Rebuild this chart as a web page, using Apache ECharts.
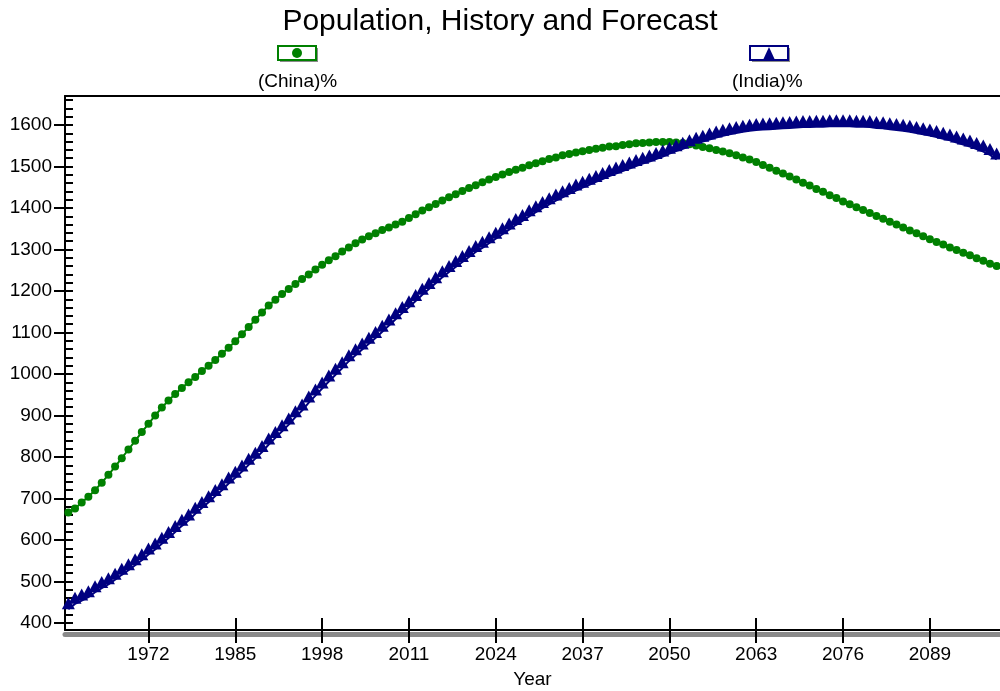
<!DOCTYPE html>
<html style="height: 100%">

<head>
    <meta charset="utf-8">
    <script src="https://cdn.jsdelivr.net/npm/echarts@6.0.0/dist/echarts.min.js"></script>
</head>

<body style="height: 100%; margin: 0; background: #fff">
    <div id="main" style="width: 1000px;height:691px;"></div>
    <script type="text/javascript">
        // one point per year, 1960 .. 2099
        var firstYear = 1960, lastYear = 2099;

        var xTickYears = [1972, 1985, 1998, 2011, 2024, 2037, 2050, 2063, 2076, 2089];
        var yMajor = [400, 500, 600, 700, 800, 900, 1000, 1100, 1200, 1300, 1400, 1500, 1600];
        var yMinor = [];
        for (var t = 400; t <= 1660; t += 20) yMinor.push(t);

        var china = [
            666, 676, 690, 704, 720, 738, 757, 777, 797, 818,
            839, 860, 880, 900, 919, 936, 952, 966, 980, 993,
            1007, 1020, 1034, 1049, 1063, 1079, 1096, 1113, 1131, 1148,
            1165, 1179, 1193, 1205, 1217, 1229, 1240, 1252, 1263, 1274,
            1284, 1295, 1305, 1315, 1324, 1332, 1339, 1347, 1353, 1360,
            1367, 1376, 1385, 1394, 1402, 1410, 1418, 1426, 1433, 1441,
            1448, 1455, 1462, 1469, 1475, 1481, 1487, 1492, 1497, 1503,
            1508, 1513, 1518, 1522, 1527, 1530, 1534, 1537, 1540, 1543,
            1545, 1548, 1549, 1552, 1554, 1556, 1557, 1558, 1559, 1559,
            1559, 1558, 1557, 1554, 1551, 1547, 1544, 1540, 1536, 1532,
            1527, 1522, 1517, 1511, 1504, 1497, 1490, 1483, 1476, 1469,
            1461, 1454, 1446, 1439, 1431, 1424, 1416, 1409, 1402, 1395,
            1388, 1381, 1374, 1367, 1360, 1353, 1346, 1339, 1332, 1325,
            1318, 1312, 1305, 1299, 1292, 1286, 1279, 1273, 1266, 1260
        ];

        var india = [
            433, 446, 454, 462, 474, 484, 493, 504, 516, 527,
            539, 551, 565, 577, 591, 605, 619, 634, 647, 663,
            677, 691, 706, 720, 736, 750, 765, 781, 796, 812,
            830, 846, 862, 878, 896, 912, 931, 948, 965, 982,
            998, 1014, 1031, 1045, 1059, 1073, 1087, 1102, 1117, 1132,
            1147, 1161, 1176, 1191, 1205, 1219, 1233, 1246, 1258, 1270,
            1282, 1294, 1304, 1315, 1326, 1337, 1348, 1359, 1369, 1380,
            1390, 1400, 1409, 1418, 1426, 1434, 1442, 1449, 1456, 1463,
            1470, 1477, 1483, 1489, 1495, 1501, 1507, 1512, 1518, 1524,
            1531, 1537, 1543, 1549, 1555, 1560, 1565, 1570, 1574, 1578,
            1581, 1584, 1586, 1588, 1589, 1590, 1591, 1592, 1593, 1594,
            1595, 1595, 1596, 1596, 1597, 1597, 1597, 1597, 1596, 1596,
            1595, 1593, 1592, 1590, 1588, 1586, 1584, 1581, 1578, 1575,
            1571, 1567, 1563, 1558, 1553, 1548, 1542, 1536, 1528, 1517
        ];

        var GREEN = '#008000', NAVY = '#000080';
        var FONT = "'Liberation Sans', Arial, sans-serif";

        function withYears(values) {
            return values.map(function (v, i) { return [firstYear + i, v]; });
        }

        function svgIcon(inner, color) {
            var s = "<svg xmlns='http://www.w3.org/2000/svg' width='42' height='18'>" +
                "<rect x='3' y='3' width='38' height='14' fill='#8a8a8a'/>" +
                "<rect x='1' y='1' width='38' height='14' fill='#fff' stroke='" + color + "' stroke-width='2'/>" +
                inner + "</svg>";
            return 'image://data:image/svg+xml;charset=utf-8,' + encodeURIComponent(s);
        }
        var chinaIcon = svgIcon("<circle cx='20' cy='8' r='5' fill='" + GREEN + "'/>", GREEN);
        var indiaIcon = svgIcon("<polygon points='20,2 26,15 14,15' fill='" + NAVY + "'/>", NAVY);

        function plain(v) { return String(v); }

        var xMin = firstYear - 0.5, xMax = lastYear + 0.5;

        var myChart = echarts.init(document.getElementById('main'));
        myChart.setOption({
            animation: false,
            textStyle: { fontFamily: FONT, color: '#000' },
            title: {
                text: 'Population, History and Forecast',
                left: 'center',
                top: 2,
                textStyle: { fontSize: 30, fontWeight: 'normal', color: '#000', fontFamily: FONT }
            },
            legend: [
                { data: ['China'], left: 277, top: 45, padding: 0, icon: chinaIcon, itemWidth: 42, itemHeight: 18, formatter: function () { return ''; } },
                { data: ['India'], left: 749, top: 45, padding: 0, icon: indiaIcon, itemWidth: 42, itemHeight: 18, formatter: function () { return ''; } },
                {
                    data: ['China'], left: 253, top: 72, padding: 0, icon: 'rect', itemWidth: 0, itemHeight: 0,
                    itemStyle: { opacity: 0 }, formatter: '(China)%', textStyle: { fontSize: 19, color: '#000' }
                },
                {
                    data: ['India'], left: 727, top: 72, padding: 0, icon: 'rect', itemWidth: 0, itemHeight: 0,
                    itemStyle: { opacity: 0 }, formatter: '(India)%', textStyle: { fontSize: 19, color: '#000' }
                }
            ],
            grid: { left: 65, right: 0, top: 96, bottom: 61, containLabel: false, outerBoundsMode: 'none' },
            xAxis: [
                {
                    type: 'value', min: xMin, max: xMax, position: 'bottom',
                    name: 'Year', nameLocation: 'middle', nameGap: 40,
                    nameTextStyle: { fontSize: 19, color: '#000' },
                    axisLine: { lineStyle: { color: '#000', width: 2 } },
                    axisTick: { show: true, customValues: xTickYears, length: 13, lineStyle: { color: '#000', width: 2 } },
                    axisLabel: { customValues: xTickYears, formatter: plain, fontSize: 19, color: '#000', margin: 15 },
                    splitLine: { show: false },
                    z: 3
                },
                {
                    type: 'value', min: xMin, max: xMax, position: 'bottom',
                    axisLine: { show: false },
                    axisTick: { show: true, customValues: xTickYears, inside: true, length: 12, lineStyle: { color: '#000', width: 2 } },
                    axisLabel: { show: false },
                    splitLine: { show: false }
                },
                {
                    type: 'value', min: xMin, max: xMax, position: 'bottom', offset: 4,
                    axisLine: { lineStyle: { color: '#8a8a8a', width: 5 } },
                    axisTick: { show: false }, axisLabel: { show: false }, splitLine: { show: false },
                    z: 1
                },
                {
                    type: 'value', min: xMin, max: xMax, position: 'top',
                    axisLine: { lineStyle: { color: '#000', width: 2 } },
                    axisTick: { show: false }, axisLabel: { show: false }, splitLine: { show: false }
                }
            ],
            yAxis: [
                {
                    type: 'value', min: 383, max: 1670, position: 'left',
                    axisLine: { show: true, lineStyle: { color: '#000', width: 2 } },
                    axisTick: { show: true, length: 11, customValues: yMajor, lineStyle: { color: '#000', width: 2 } },
                    axisLabel: { customValues: yMajor, formatter: plain, fontSize: 19, color: '#000', margin: 13 },
                    splitLine: { show: false }
                },
                {
                    type: 'value', min: 383, max: 1670, position: 'left',
                    axisLine: { show: false },
                    axisTick: { show: true, inside: true, length: 8, customValues: yMinor, lineStyle: { color: '#000', width: 2 } },
                    axisLabel: { show: false },
                    splitLine: { show: false }
                }
            ],
            series: [
                {
                    name: 'China', type: 'line', data: withYears(china),
                    xAxisIndex: 0, yAxisIndex: 0,
                    symbol: 'circle', symbolSize: 8, showAllSymbol: true,
                    lineStyle: { color: GREEN, width: 2 },
                    itemStyle: { color: GREEN },
                    clip: false
                },
                {
                    name: 'India', type: 'line', data: withYears(india),
                    xAxisIndex: 0, yAxisIndex: 0,
                    symbol: 'triangle', symbolSize: [13, 12], symbolOffset: [0, -6],
                    showAllSymbol: true,
                    lineStyle: { color: NAVY, width: 2 },
                    itemStyle: { color: NAVY },
                    clip: false
                }
            ]
        });
    </script>
</body>

</html>
